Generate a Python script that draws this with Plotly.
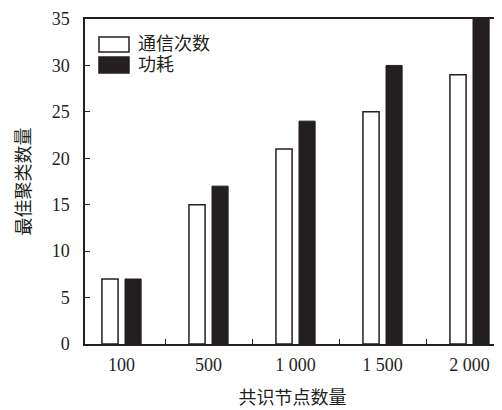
import plotly.graph_objects as go

categories = ["100", "500", "1 000", "1 500", "2 000"]
comm_counts = [7, 15, 21, 25, 29]
power = [7, 17, 24, 30, 35]
series_names = ["通信次数", "功耗"]
y_ticks = [0, 5, 10, 15, 20, 25, 30, 35]

FONT = "Liberation Serif, 'Times New Roman', 'Noto Sans CJK SC', serif"
INK = "#231f20"
FILLS = ["white", INK]

fig = go.Figure()
fig.add_trace(go.Bar(
    x=categories, y=comm_counts, name=series_names[0], showlegend=False,
    marker=dict(color=FILLS[0], line=dict(color=INK, width=1.5)),
))
fig.add_trace(go.Bar(
    x=categories, y=power, name=series_names[1], showlegend=False,
    marker=dict(color=FILLS[1], line=dict(color=INK, width=1)),
))

# custom legend (larger swatches, as in the original)
legend_rows = [(0.9446, 0.8985), (0.883, 0.834)]
for name, fill, (y1, y0) in zip(series_names, FILLS, legend_rows):
    fig.add_shape(type="rect", xref="paper", yref="paper",
                  x0=0.0337, x1=0.106, y0=y0, y1=y1,
                  fillcolor=fill, line=dict(color=INK, width=1.5))
    fig.add_annotation(xref="paper", yref="paper", x=0.122, y=(y0 + y1) / 2,
                       text=name, showarrow=False, xanchor="left", yanchor="middle",
                       font=dict(size=18, color=INK))

# page body has an 8px default margin, so the figure sits at (8, 8)
fig.update_layout(
    width=502, height=410,
    margin=dict(l=77, r=10, t=11, b=74),
    paper_bgcolor="white", plot_bgcolor="white",
    barmode="group", bargap=0.47, bargroupgap=0.3,
    font=dict(family=FONT, size=18, color=INK),
    showlegend=False,
)
fig.update_xaxes(
    type="category", range=[-0.42, 4.35], automargin=False,
    tickson="boundaries", ticks="inside", ticklen=5, tickwidth=1.2, tickcolor=INK,
    ticklabelstandoff=4,
    showline=True, linecolor=INK, linewidth=1.5, mirror=True,
    showgrid=False, zeroline=False,
    title=dict(text="共识节点数量", standoff=17, font=dict(size=18)),
)
fig.update_yaxes(
    range=[0, 35], tickvals=y_ticks, automargin=False,
    ticks="inside", ticklen=5, tickwidth=1.2, tickcolor=INK,
    ticklabelstandoff=10,
    showline=True, linecolor=INK, linewidth=1.5, mirror=True,
    showgrid=False, zeroline=False,
    title=dict(text="最佳聚类数量", standoff=16, font=dict(size=18)),
)

fig.write_html("out.html")
